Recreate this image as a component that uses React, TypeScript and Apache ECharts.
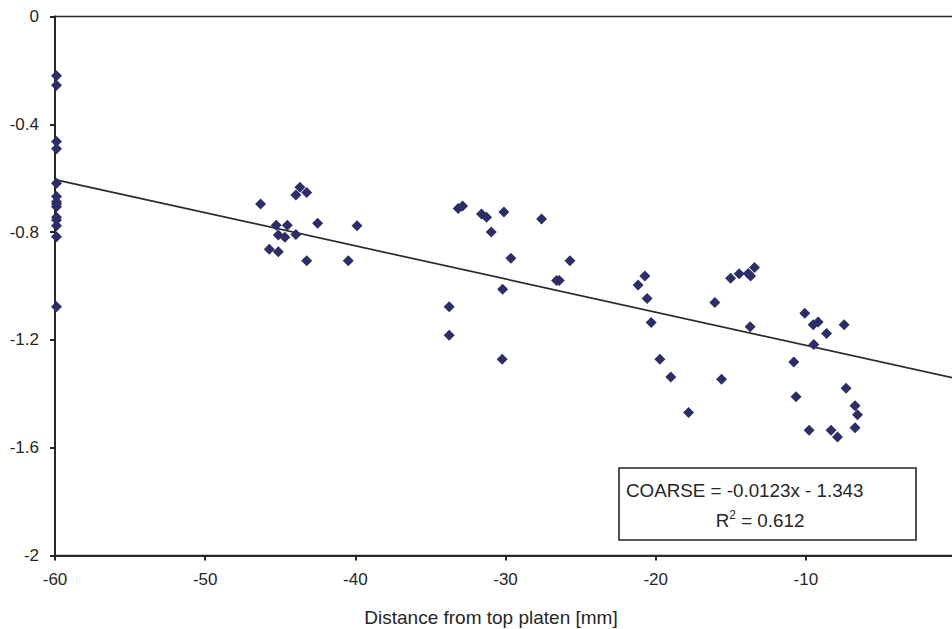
import React, { useEffect, useRef } from "react";
import * as echarts from "echarts";

const pointX: number[] = [
  -59.9, -59.9, -59.9, -59.9, -59.9, -59.9, -59.9, -59.9, -59.9, -59.9, -59.9, -59.9, -59.9, -59.9,
  -46.31, -45.27, -44.53, -45.13, -44.69, -43.96, -45.73, -45.13, -43.69, -43.96, -43.24, -42.51, -43.24, -40.47, -39.89,
  -33.15, -32.86, -31.6, -31.26, -30.11, -30.95, -27.6, -29.64, -25.71, -26.6, -26.42, -30.19, -33.75, -33.75, -30.22,
  -21.17, -20.72, -20.57, -20.3, -19.72, -18.99, -17.81, -16.06, -15.61, -15.01, -14.44, -13.84, -13.68, -13.42, -13.71,
  -10.07, -9.51, -9.18, -8.62, -9.47, -7.45, -10.8, -10.65, -7.32, -6.72, -6.56, -6.72, -9.78, -8.32, -7.89,
];
const pointY: number[] = [
  -0.22, -0.255, -0.464, -0.491, -0.619, -0.668, -0.687, -0.696, -0.706, -0.745, -0.755, -0.776, -0.817, -1.077,
  -0.696, -0.775, -0.775, -0.811, -0.819, -0.809, -0.864, -0.873, -0.634, -0.662, -0.653, -0.767, -0.906, -0.906, -0.776,
  -0.712, -0.703, -0.733, -0.745, -0.725, -0.8, -0.751, -0.897, -0.906, -0.98, -0.98, -1.012, -1.077, -1.183, -1.272,
  -0.996, -0.963, -1.046, -1.135, -1.272, -1.338, -1.469, -1.061, -1.346, -0.971, -0.955, -0.954, -0.963, -0.931, -1.151,
  -1.101, -1.144, -1.134, -1.176, -1.217, -1.144, -1.282, -1.411, -1.379, -1.444, -1.478, -1.526, -1.535, -1.535, -1.56,
];

const trendSlope = -0.0123;
const trendIntercept = -1.343;
const trendXs: number[] = [-60, 0];

const equationText = "COARSE = -0.0123x - 1.343";
const rSquaredText = "0.612";
const xAxisTitle = "Distance from top platen [mm]";

const FONT = "Liberation Sans, Arial, sans-serif";
const TEXT_COLOR = "#262626";
const AXIS_COLOR = "#262626";

export default function App() {
  const ref = useRef<HTMLDivElement>(null);

  useEffect(() => {
    if (!ref.current) return;
    const chart = echarts.init(ref.current, undefined, { renderer: "svg" });
    const scatterData = pointX.map((x, i) => [x, pointY[i]]);
    const trendData = trendXs.map((x) => [x, trendSlope * x + trendIntercept]);

    chart.setOption({
      animation: false,
      backgroundColor: "#ffffff",
      grid: {
        left: 55,
        top: 16.5,
        right: -4,
        bottom: 629 - 555.5,
        containLabel: false,
        outerBoundsMode: "none",
        show: true,
        borderColor: AXIS_COLOR,
        borderWidth: 1.6,
        backgroundColor: "transparent",
      },
      xAxis: {
        type: "value",
        min: -60,
        max: 0,
        interval: 10,
        splitLine: { show: false },
        axisLine: { show: true, onZero: false, lineStyle: { color: AXIS_COLOR, width: 2 } },
        axisTick: { show: true, length: 5, lineStyle: { color: AXIS_COLOR, width: 2 } },
        axisLabel: { color: TEXT_COLOR, fontFamily: FONT, fontSize: 17, margin: 15, showMaxLabel: false },
      },
      yAxis: {
        type: "value",
        min: -2,
        max: 0,
        interval: 0.4,
        splitLine: { show: false },
        axisLine: { show: true, onZero: false, lineStyle: { color: AXIS_COLOR, width: 2 } },
        axisTick: { show: true, length: 5, lineStyle: { color: AXIS_COLOR, width: 2 } },
        axisLabel: { color: TEXT_COLOR, fontFamily: FONT, fontSize: 17, margin: 16 },
      },
      series: [
        {
          type: "line",
          data: trendData,
          symbol: "none",
          lineStyle: { color: "#2b2b2b", width: 1.7 },
          silent: true,
          z: 2,
        },
        {
          type: "scatter",
          data: scatterData,
          symbol: "diamond",
          symbolSize: 11,
          itemStyle: { color: "#2e2e66", opacity: 1 },
          z: 3,
        },
      ],
      graphic: [
        {
          type: "rect",
          shape: { x: 619, y: 468, width: 297, height: 72 },
          style: { fill: "#ffffff", stroke: AXIS_COLOR, lineWidth: 1.6 },
          z: 10,
        },
        {
          type: "text",
          x: 626,
          y: 490,
          style: {
            text: equationText,
            font: `18.8px ${FONT}`,
            fill: TEXT_COLOR,
            verticalAlign: "middle",
            align: "left",
          },
          z: 11,
        },
        {
          type: "text",
          x: 760,
          y: 520,
          style: {
            text: "R{sup|2} = " + rSquaredText,
            font: `18.8px ${FONT}`,
            fill: TEXT_COLOR,
            verticalAlign: "middle",
            align: "center",
            rich: {
              sup: { fontSize: 12, fontFamily: FONT, fill: TEXT_COLOR, verticalAlign: "top", padding: [0, 0, 10, 0] },
            },
          },
          z: 11,
        },
        {
          type: "text",
          x: 491,
          y: 617,
          style: {
            text: xAxisTitle,
            font: `19px ${FONT}`,
            fill: TEXT_COLOR,
            align: "center",
            verticalAlign: "middle",
          },
        },
      ],
    });

    return () => chart.dispose();
  }, []);

  return (
    <div
      ref={ref}
      style={{ position: "fixed", left: 0, top: 0, width: 952, height: 629, background: "#fff" }}
    />
  );
}
